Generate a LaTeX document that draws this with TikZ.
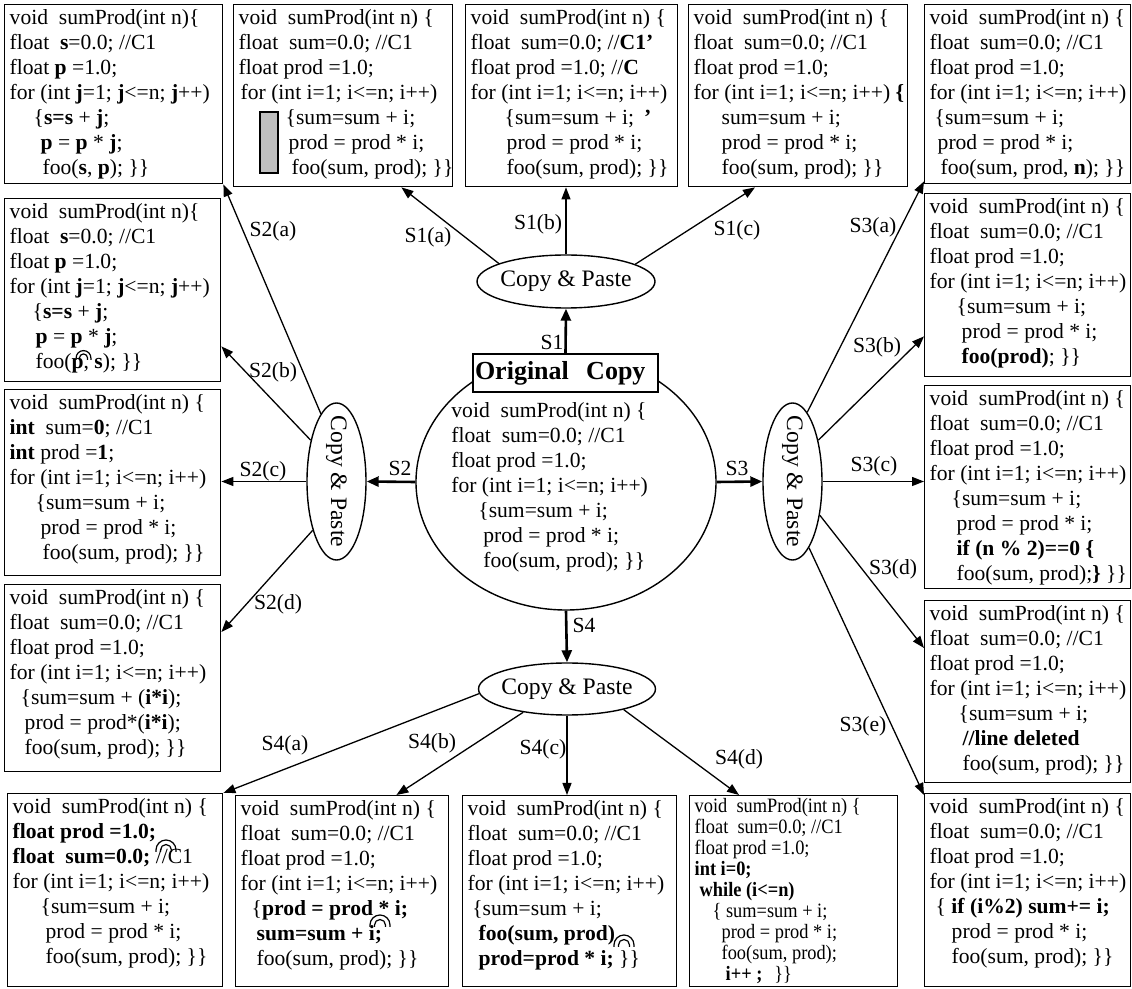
\documentclass[tikz,border=0pt]{standalone}
\usepackage{fontspec}
\setmainfont{Liberation Serif}
\newfontfamily\narrowserif{Liberation Serif}[FakeStretch=0.9]
\usetikzlibrary{arrows.meta,shapes.geometric}
\newcommand{\codefont}{\fontsize{10.8}{12.5}\selectfont}
\newcommand{\smallcode}{\narrowserif\fontsize{10.2}{10.5}\selectfont}
\newcommand{\codeblock}[3]{\parbox[t][#2][t]{#1}{\begin{tabular}[t]{@{}l@{}}#3\end{tabular}}}
\newcommand{\swapmark}[2]{%
  \draw[line width=0.6pt] #1 ++(-#2,-1pt) -- ++(0pt,1pt) arc[start angle=180,end angle=0,radius=#2] -- ++(0pt,-1pt);
  \draw[line width=0.6pt] #1 ++(-0.55*#2,-1pt) -- ++(0pt,1pt) arc[start angle=180,end angle=0,radius=0.55*#2] -- ++(0pt,-1pt);}

\begin{document}
\begin{tikzpicture}[x=0.5pt,y=-0.5pt,>={Triangle[length=6pt,width=4.5pt]},
  code/.style={draw,line width=0.7pt,anchor=north west,inner xsep=2.5pt,inner ysep=1pt,font=\codefont},
  cp/.style={draw,ellipse,line width=0.7pt,inner sep=0pt,font=\fontsize{11.8}{14}\selectfont},
  lbl/.style={inner sep=0pt,font=\codefont},
  link/.style={->,line width=0.65pt},
  main/.style={-{Triangle[length=6pt,width=5pt]},line width=1.3pt}]
  \useasboundingbox (0,0) rectangle (1132,989);

  % original copy in the middle
  \node[draw,ellipse,line width=0.7pt,inner sep=0pt,minimum width=150pt,minimum height=128pt] (orig) at (566,482) {};
  \node[draw,fill=white,line width=0.7pt,inner xsep=1pt,inner ysep=0pt,text width=90.5pt,align=left,minimum height=19pt,
        font=\fontsize{13}{15}\selectfont\bfseries] (origlbl) at (565.5,373) {Original\ \ Copy};
  \node[anchor=north west,inner sep=0pt,font=\codefont] (origcode) at (451,399.5) {\begin{tabular}[t]{@{}l@{}}
    void\ \ sumProd(int n) \{\\ float\ \ sum=0.0; //C1\\ float prod =1.0;\\ for (int i=1; i<=n; i++)\\
    \hspace*{13.5pt}\{sum=sum + i;\\ \hspace*{16pt}prod = prod * i;\\ \hspace*{16pt}foo(sum, prod); \}\}\end{tabular}};

  % copy & paste steps
  \node[cp,minimum width=89pt,minimum height=26.5pt] (cp1) at (566,281.5) {\makebox[0pt]{Copy \& Paste}};
  \node[cp,minimum width=29.5pt,minimum height=78.5pt] (cp2) at (336.5,481.5) {\rotatebox{-90}{\makebox[0pt]{Copy \& Paste}}};
  \node[cp,minimum width=29.5pt,minimum height=78.5pt] (cp3) at (792.5,481.5) {\rotatebox{-90}{\makebox[0pt]{Copy \& Paste}}};
  \node[cp,minimum width=88.5pt,minimum height=26pt] (cp4) at (567,689) {\makebox[0pt]{Copy \& Paste}};

  % S1 copies (top)
  \node[code] (s1a) at (233,4) {\codeblock{104.5pt}{89pt}{
    void\ \ sumProd(int n) \{\\ float\ \ sum=0.0; //C1\\ float prod =1.0;\\ \hspace*{1pt}for (int i=1; i<=n; i++)\\
    \hspace*{23.5pt}\{sum=sum + i;\\ \hspace*{25pt}prod = prod * i;\\ \hspace*{26.5pt}foo(sum, prod); \}\}}};
  \draw[line width=0.7pt,fill=gray!50] (260,112) rectangle (278,173);
  \node[code] (s1b) at (465,4) {\codeblock{101pt}{89pt}{
    void\ \ sumProd(int n) \{\\ float\ \ sum=0.0; //\textbf{C1'}\\ float prod =1.0; //\textbf{C}\\ for (int i=1; i<=n; i++)\\
    \hspace*{17pt}\{sum=sum + i;\hspace{5pt}\textbf{'}\\ \hspace*{18pt}prod = prod * i;\\ \hspace*{18pt}foo(sum, prod); \}\}}};
  \node[code] (s1c) at (688,4) {\codeblock{104.5pt}{89pt}{
    void\ \ sumProd(int n) \{\\ float\ \ sum=0.0; //C1\\ float prod =1.0;\\ for (int i=1; i<=n; i++) \textbf{\{}\\
    \hspace*{14pt}sum=sum + i;\\ \hspace*{14pt}prod = prod * i;\\ \hspace*{14pt}foo(sum, prod); \}\}}};

  % S2 copies (left)
  \node[code] (s2a) at (4,4) {\codeblock{104pt}{87.5pt}{
    void\ \ sumProd(int n)\{\\ float\ \ \textbf{s}=0.0; //C1\\ float \textbf{p} =1.0;\\
    for (int \textbf{j}=1; \textbf{j}<=n; \textbf{j}++)\\
    \hspace*{12pt}\{\textbf{s=s} + \textbf{j};\\ \hspace*{15.5pt}\textbf{p} = \textbf{p} * \textbf{j};\\
    \hspace*{16.5pt}foo(\textbf{s}, \textbf{p}); \}\}}};
  \node[code] (s2b) at (4,198) {\codeblock{103pt}{89.5pt}{
    void\ \ sumProd(int n)\{\\ float\ \ \textbf{s}=0.0; //C1\\ float \textbf{p} =1.0;\\
    for (int \textbf{j}=1; \textbf{j}<=n; \textbf{j}++)\\
    \hspace*{11.5pt}\{\textbf{s=s} + \textbf{j};\\ \hspace*{13pt}\textbf{p} = \textbf{p} * \textbf{j};\\
    \hspace*{13pt}foo(\textbf{p}, \textbf{s}); \}\}}};
  \swapmark{(83.5,358)}{3.7pt}
  \node[code] (s2c) at (4,389) {\codeblock{103pt}{91pt}{
    void\ \ sumProd(int n) \{\\ \textbf{int}\ \ sum=\textbf{0}; //C1\\ \textbf{int} prod =\textbf{1};\\ for (int i=1; i<=n; i++)\\
    \hspace*{13pt}\{sum=sum + i;\\ \hspace*{15.5pt}prod = prod * i;\\ \hspace*{16.5pt}foo(sum, prod); \}\}}};
  \node[code] (s2d) at (4,584) {\codeblock{103pt}{91.5pt}{
    void\ \ sumProd(int n) \{\\ float\ \ sum=0.0; //C1\\ float prod =1.0;\\ for (int i=1; i<=n; i++)\\
    \hspace*{5.5pt}\{sum=sum + (\textbf{i*i});\\ \hspace*{7.5pt}prod = prod*(\textbf{i*i});\\ \hspace*{7.5pt}foo(sum, prod); \}\}}};

  % S3 copies (right)
  \node[code] (s3a) at (924,4) {\codeblock{98pt}{87.5pt}{
    void\ \ sumProd(int n) \{\\ float\ \ sum=0.0; //C1\\ float prod =1.0;\\ for (int i=1; i<=n; i++)\\
    \hspace*{2.5pt}\{sum=sum + i;\\ \hspace*{4pt}prod = prod * i;\\ \hspace*{5.5pt}foo(sum, prod, \textbf{n}); \}\}}};
  \node[code] (s3b) at (924,193) {\codeblock{98pt}{89.5pt}{
    void\ \ sumProd(int n) \{\\ float\ \ sum=0.0; //C1\\ float prod =1.0;\\ for (int i=1; i<=n; i++)\\
    \hspace*{13.5pt}\{sum=sum + i;\\ \hspace*{16pt}prod = prod * i;\\ \hspace*{16pt}\textbf{foo(prod)}; \}\}}};
  \node[code] (s3c) at (924,385) {\codeblock{98pt}{99.5pt}{
    void\ \ sumProd(int n) \{\\ float\ \ sum=0.0; //C1\\ float prod =1.0;\\ for (int i=1; i<=n; i++)\\
    \hspace*{11pt}\{sum=sum + i;\\ \hspace*{13.5pt}prod = prod * i;\\ \hspace*{13.5pt}\textbf{if (n \% 2)==0 \{}\\
    \hspace*{13.5pt}foo(sum, prod);\textbf{\}} \}\}}};
  \node[code] (s3d) at (924,600) {\codeblock{98pt}{89pt}{
    void\ \ sumProd(int n) \{\\ float\ \ sum=0.0; //C1\\ float prod =1.0;\\ for (int i=1; i<=n; i++)\\
    \hspace*{14.5pt}\{sum=sum + i;\\ \hspace*{16.5pt}\textbf{//line deleted}\\ \hspace*{16.5pt}foo(sum, prod); \}\}}};
  \node[code] (s3e) at (924,793) {\codeblock{98pt}{94.5pt}{
    void\ \ sumProd(int n) \{\\ float\ \ sum=0.0; //C1\\ float prod =1.0;\\ for (int i=1; i<=n; i++)\\
    \hspace*{3pt}\{ \textbf{if (i\%2) sum+= i;}\\ \hspace*{11pt}prod = prod * i;\\ \hspace*{11pt}foo(sum, prod); \}\}}};

  % S4 copies (bottom)
  \node[code] (s4a) at (7,793) {\codeblock{102.5pt}{94.5pt}{
    void\ \ sumProd(int n) \{\\ \textbf{float prod =1.0;}\\ \textbf{float\ \ sum=0.0;} //C1\\ for (int i=1; i<=n; i++)\\
    \hspace*{14pt}\{sum=sum + i;\\ \hspace*{16.5pt}prod = prod * i;\\ \hspace*{16.5pt}foo(sum, prod); \}\}}};
  \swapmark{(166,850)}{5pt}
  \node[code] (s4b) at (235,795) {\codeblock{101.5pt}{93.5pt}{
    void\ \ sumProd(int n) \{\\ float\ \ sum=0.0; //C1\\ float prod =1.0;\\ for (int i=1; i<=n; i++)\\
    \hspace*{5.5pt}\{\textbf{prod = prod * i;}\\ \hspace*{8pt}\textbf{sum=sum + i;}\\ \hspace*{8pt}foo(sum, prod); \}\}}};
  \swapmark{(380,925)}{5pt}
  \node[code] (s4c) at (462,795) {\codeblock{102pt}{93.5pt}{
    void\ \ sumProd(int n) \{\\ float\ \ sum=0.0; //C1\\ float prod =1.0;\\ for (int i=1; i<=n; i++)\\
    \hspace*{2.3pt}\{sum=sum + i;\\ \hspace*{5.5pt}\textbf{foo(sum, prod)}\\ \hspace*{5.5pt}\textbf{prod=prod * i;} \}\}}};
  \swapmark{(624,945)}{5pt}
  \node[code,font=\smallcode] (s4d) at (689,795) {\codeblock{99pt}{93.5pt}{
    void\ \ sumProd(int n) \{\\ float\ \ sum=0.0; //C1\\ float prod =1.0;\\ \textbf{int i=0;}\\
    \hspace*{2.5pt}\textbf{while (i<=n)}\\ \hspace*{9pt}\{ sum=sum + i;\\ \hspace*{13.5pt}prod = prod * i;\\
    \hspace*{13.5pt}foo(sum, prod);\\ \hspace*{15.5pt}\textbf{i++ ;}\hspace{6pt}\}\}}};

  % connectors
  \draw[main] (origlbl.north) -- (cp1.south);
  \draw[main] (orig.west) -- (cp2.east);
  \draw[main] (orig.east) -- (cp3.west);
  \draw[main] (orig.south) -- (cp4.north);
  \draw[link] (cp1.165) -- ([xshift=-26pt]s1a.south east);
  \draw[link] (cp1.north) -- (cp1.north |- s1b.south);
  \draw[link] (cp1.14) -- ([xshift=33.5pt]s1c.south west);
  \draw[link] (cp2.103) -- (s2a.south east);
  \draw[link] (cp2.122) -- ([yshift=18pt]s2b.south east);
  \draw[link] (cp2.west) -- (cp2.west -| s2c.east);
  \draw[link] (cp2.-116) -- ([yshift=-24pt]s2d.north east);
  \draw[link] (cp3.78) -- ([yshift=1.5pt]s3a.south west);
  \draw[link] (cp3.58) -- ([yshift=20.5pt]s3b.south west);
  \draw[link] (cp3.east) -- (cp3.east -| s3c.west);
  \draw[link] (cp3.-51) -- ([yshift=-24pt]s3d.north west);
  \draw[link] (cp3.-76) -- ([yshift=-1pt]s3e.north west);
  \draw[link] (cp4.183) -- (s4a.north east);
  \draw[link] (cp4.-152) -- ([xshift=-26.5pt]s4b.north east);
  \draw[link] (cp4.south) -- (cp4.south |- s4c.north);
  \draw[link] (cp4.-20) -- ([xshift=25pt]s4d.north west);

  % step labels
  \node[lbl] (l1) at (552,342) {S1};
  \node[lbl] (l2) at (400,468) {S2};
  \node[lbl] (l3) at (737,468) {S3};
  \node[lbl] (l4) at (584,625) {S4};
  \node[lbl] (l1a) at (428,237) {S1(a)};
  \node[lbl] (l1b) at (538,224) {S1(b)};
  \node[lbl] (l1c) at (737,230) {S1(c)};
  \node[lbl] (l2a) at (273,231) {S2(a)};
  \node[lbl] (l2b) at (273,372) {S2(b)};
  \node[lbl] (l2c) at (263,471) {S2(c)};
  \node[lbl] (l2d) at (278,604) {S2(d)};
  \node[lbl] (l3a) at (873,227) {S3(a)};
  \node[lbl] (l3b) at (877,347) {S3(b)};
  \node[lbl] (l3c) at (874,466) {S3(c)};
  \node[lbl] (l3d) at (893,569) {S3(d)};
  \node[lbl] (l3e) at (863,726) {S3(e)};
  \node[lbl] (l4a) at (285,745) {S4(a)};
  \node[lbl] (l4b) at (432,743) {S4(b)};
  \node[lbl] (l4c) at (543,749) {S4(c)};
  \node[lbl] (l4d) at (739,759) {S4(d)};
\end{tikzpicture}
\end{document}
